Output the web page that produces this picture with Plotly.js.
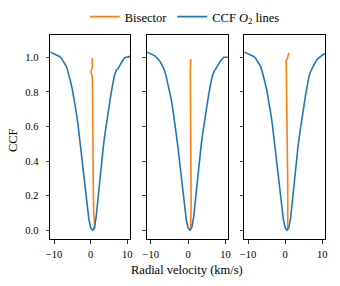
<!DOCTYPE html>
<html>
<head>
<meta charset="utf-8">
<script src="https://cdn.plot.ly/plotly-3.0.1.min.js"></script>
<style>html,body{margin:0;padding:0;background:#fff;}#chart{width:340px;height:286px;}</style>
</head>
<body>
<div id="chart"></div>
<script>
// Radial velocity grid (km/s)
var velocity = [-11.0,-10.5,-10.0,-9.5,-9.0,-8.5,-8.0,-7.5,-7.0,-6.5,-6.0,-5.5,-5.0,-4.5,-4.0,-3.5,-3.0,-2.5,-2.0,-1.5,-1.0,-0.5,0.0,0.5,1.0,1.5,2.0,2.5,3.0,3.5,4.0,4.5,5.0,5.5,6.0,6.5,7.0,7.5,8.0,8.5,9.0,9.5,10.0,10.5,10.75];

// CCF of O2 lines, one per panel
var ccf1 = [1.03,1.025,1.02,1.015,1.01,1.005,0.995,0.98,0.96,0.94,0.905,0.86,0.815,0.76,0.69,0.62,0.53,0.44,0.345,0.245,0.15,0.065,0.015,0.0,0.015,0.075,0.18,0.29,0.40,0.49,0.57,0.65,0.72,0.78,0.84,0.895,0.925,0.935,0.955,0.975,0.99,1.0,1.0,1.005,1.0];
var ccf2 = [1.03,1.025,1.02,1.015,1.01,1.0,0.99,0.975,0.955,0.935,0.9,0.855,0.81,0.755,0.685,0.615,0.525,0.435,0.34,0.24,0.145,0.06,0.012,0.0,0.018,0.08,0.185,0.295,0.405,0.495,0.575,0.655,0.725,0.785,0.845,0.895,0.92,0.935,0.955,0.975,0.99,1.0,1.0,1.0,1.0];
var ccf3 = [1.03,1.025,1.02,1.018,1.012,1.005,0.995,0.98,0.96,0.94,0.905,0.86,0.815,0.76,0.69,0.62,0.53,0.44,0.345,0.245,0.15,0.065,0.015,0.0,0.015,0.075,0.18,0.29,0.40,0.49,0.57,0.65,0.72,0.78,0.84,0.895,0.925,0.945,0.97,0.985,0.995,1.005,1.012,1.02,1.02];

// Bisectors (velocity, CCF level)
var bisX1 = [0.78,1.05,1.15,1.0,0.82,0.75,0.68,0.62,0.56,0.5,0.48,0.3,0.08,0.3,0.47,0.45,0.45];
var bisY1 = [0.0,0.01,0.03,0.06,0.1,0.2,0.4,0.6,0.8,0.86,0.88,0.9,0.915,0.93,0.946,0.97,0.994];
var bisX2 = [0.65,0.75,0.8,0.75,0.68,0.6,0.55,0.58,0.7];
var bisY2 = [0.0,0.05,0.15,0.3,0.5,0.7,0.85,0.93,0.99];
var bisX3 = [0.68,0.72,0.72,0.68,0.6,0.52,0.45,0.38,0.33,0.28,0.6,0.75,1.0];
var bisY3 = [0.0,0.05,0.15,0.3,0.5,0.7,0.85,0.93,0.96,0.98,0.995,1.005,1.025];

var xTicks = [-10, 0, 10];
var yTicks = [0, 0.2, 0.4, 0.6, 0.8, 1.0];

var orange = '#ff7f0e', blue = '#1f77b4';
var ccfs = [ccf1, ccf2, ccf3];
var bisX = [bisX1, bisX2, bisX3];
var bisY = [bisY1, bisY2, bisY3];
var traces = [];
for (var i = 0; i < 3; i++) {
  var sfx = i === 0 ? '' : String(i + 1);
  traces.push({x: bisX[i], y: bisY[i], type: 'scatter', mode: 'lines', name: 'Bisector',
    line: {color: orange, width: 1.6}, xaxis: 'x' + sfx, yaxis: 'y' + sfx, showlegend: i === 0, legendgroup: 'b'});
  traces.push({x: velocity, y: ccfs[i], type: 'scatter', mode: 'lines', name: 'CCF <i>O</i><sub>2</sub> lines',
    line: {color: blue, width: 1.6}, xaxis: 'x' + sfx, yaxis: 'y' + sfx, showlegend: i === 0, legendgroup: 'c'});
}
var font = 'Liberation Serif, serif';
function xax(dom, anc) {
  return {domain: dom, anchor: anc, range: [-11.1, 10.75], tickvals: xTicks, ticktext: xTicks.map(function(v){return v < 0 ? '\u2212' + Math.abs(v) : String(v);}),
    ticks: 'outside', ticklen: 3.5, tickwidth: 0.8, tickcolor: '#000', showline: true, linecolor: '#000', linewidth: 1,
    mirror: true, showgrid: false, zeroline: false, tickfont: {size: 10.5, color: '#000'}, ticklabelstandoff: 2, fixedrange: true};
}
function yax(anc, labels) {
  return {domain: [0, 1], anchor: anc, range: [-0.051, 1.129], tickvals: yTicks, tickformat: '.1f',
    ticks: 'outside', ticklen: 3.5, tickwidth: 0.8, tickcolor: '#000', showline: true, linecolor: '#000', linewidth: 1,
    mirror: true, showgrid: false, zeroline: false, showticklabels: labels, tickfont: {size: 10.5, color: '#000'},
    ticklabelstandoff: 5, fixedrange: true};
}
var layout = {
  width: 340, height: 286,
  margin: {l: 50, r: 15, t: 35, b: 47, autoexpand: false},
  paper_bgcolor: '#fff', plot_bgcolor: '#fff',
  font: {family: font, color: '#000', size: 10.5},
  showlegend: true,
  legend: {orientation: 'h', x: 0.49, xanchor: 'center', y: 1.088, yanchor: 'middle',
    font: {size: 12.5}, bgcolor: 'rgba(0,0,0,0)', itemwidth: 30, traceorder: 'normal'},
  xaxis: xax([0, 0.2909], 'y'),
  xaxis2: xax([0.3516, 0.6484], 'y2'),
  xaxis3: xax([0.7055, 1.0], 'y3'),
  yaxis: yax('x', true),
  yaxis2: yax('x2', false),
  yaxis3: yax('x3', false),
  annotations: [
    {text: 'Radial velocity (km/s)', xref: 'paper', yref: 'paper', x: 0.498, y: -0.152, showarrow: false,
      xanchor: 'center', yanchor: 'middle', font: {size: 12.5}},
    {text: 'CCF', xref: 'paper', yref: 'paper', x: -0.1345, y: 0.485, showarrow: false, textangle: -90,
      xanchor: 'center', yanchor: 'middle', font: {size: 12.5}}
  ]
};
Plotly.newPlot('chart', traces, layout, {staticPlot: true, displayModeBar: false});
</script>
</body>
</html>
